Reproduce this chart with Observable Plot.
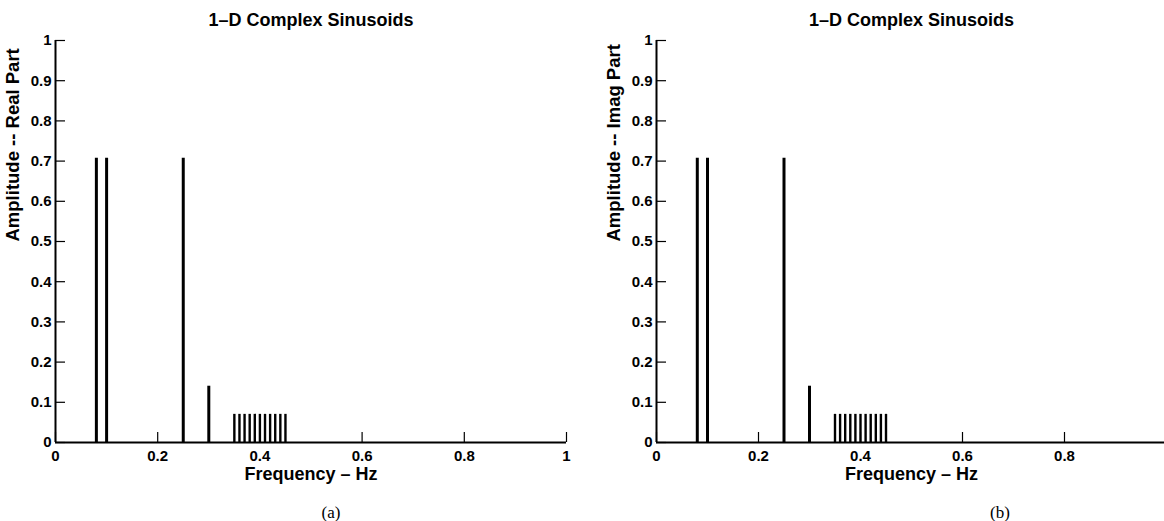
<!DOCTYPE html>
<html><head><meta charset="utf-8">
<script src="https://cdn.jsdelivr.net/npm/d3@7"></script>
<script src="https://cdn.jsdelivr.net/npm/@observablehq/plot@0.6"></script>
<style>
html,body{margin:0;padding:0;background:#fff;overflow:hidden;}
#wrap{position:relative;width:1164px;height:521px;overflow:hidden;background:#fff;}
.panel{position:absolute;top:0;}
.cap{position:absolute;top:503px;line-height:20px;font-family:"Liberation Serif","Times New Roman",serif;font-size:17px;color:#000;transform:translateX(-50%);white-space:nowrap;}
</style></head><body><div id="wrap"></div>
<script>
// Data
const freqs = [0.08, 0.10, 0.25, 0.30, 0.35, 0.36, 0.37, 0.38, 0.39, 0.40, 0.41, 0.42, 0.43, 0.44, 0.45];
const realAmps = [0.707, 0.707, 0.707, 0.14, 0.07, 0.07, 0.07, 0.07, 0.07, 0.07, 0.07, 0.07, 0.07, 0.07, 0.07];
const imagAmps = [0.707, 0.707, 0.707, 0.14, 0.07, 0.07, 0.07, 0.07, 0.07, 0.07, 0.07, 0.07, 0.07, 0.07, 0.07];
const xTicksA = [0, 0.2, 0.4, 0.6, 0.8, 1];
const xTicksB = [0, 0.2, 0.4, 0.6, 0.8];
const yTicks = [0, 0.1, 0.2, 0.3, 0.4, 0.5, 0.6, 0.7, 0.8, 0.9, 1];
const titleText = "1\u2013D Complex Sinusoids";
const xLabel = "Frequency \u2013 Hz";
const yLabelA = "Amplitude -- Real Part";
const yLabelB = "Amplitude -- Imag Part";

const wrap = document.getElementById("wrap");
const fmt = d3.format("~g");

function panel({left, width, marginLeft, marginRight, amps, xTicks, yLabel, caption, capX}) {
  const height = 475, marginTop = 40, marginBottom = 33;
  const plotW = width - marginLeft - marginRight;
  const plotH = height - marginTop - marginBottom;
  const data = freqs.map((f, i) => ({f, a: amps[i]}));
  const chart = Plot.plot({
    width, height, marginLeft, marginRight, marginTop, marginBottom,
    style: {fontFamily: "'Liberation Sans', Arial, sans-serif", fontSize: "15px", fontWeight: "bold", color: "#000", background: "#fff", overflow: "visible"},
    x: {domain: [0, 1], axis: null},
    y: {domain: [0, 1], axis: null},
    marks: [
      Plot.ruleX(xTicks, {x: d => d, insetTop: plotH - 10, stroke: "#000", strokeWidth: 1.2}),
      Plot.ruleY(yTicks, {y: d => d, insetRight: plotW - 10, stroke: "#000", strokeWidth: 1.2}),
      Plot.ruleY([0], {stroke: "#000", strokeWidth: 2}),
      Plot.ruleX([0], {stroke: "#000", strokeWidth: 2}),
      Plot.axisX({ticks: xTicks, tickSize: 0, tickPadding: 8, tickFormat: fmt, label: null, fontSize: 15, fontWeight: "bold"}),
      Plot.axisY({ticks: yTicks, tickSize: 0, tickPadding: 4, tickFormat: fmt, label: null, fontSize: 15, fontWeight: "bold"}),
      Plot.ruleX(data, {x: "f", y1: 0, y2: "a", stroke: "#000", strokeWidth: d => d.a > 0.1 ? 3 : 2.4}),
      Plot.text([titleText], {frameAnchor: "top", dy: -20, lineAnchor: "middle", fontSize: 18, fontWeight: "bold", fill: "#000"}),
      Plot.text([xLabel], {frameAnchor: "bottom", dy: 32, lineAnchor: "middle", fontSize: 18, fontWeight: "bold", fill: "#000"}),
      Plot.text([yLabel], {frameAnchor: "left", dx: -42, rotate: -90, lineAnchor: "middle", fontSize: 18.5, fontWeight: "bold", fill: "#000"})
    ]
  });
  chart.classList.add("panel");
  chart.style.left = left + "px";
  wrap.appendChild(chart);
  const cap = document.createElement("div");
  cap.className = "cap";
  cap.textContent = caption;
  cap.style.left = capX + "px";
  wrap.appendChild(cap);
}

panel({left: 0, width: 590, marginLeft: 55, marginRight: 24, amps: realAmps, xTicks: xTicksA, yLabel: yLabelA, caption: "(a)", capX: 331});
panel({left: 600, width: 576, marginLeft: 56, marginRight: 10, amps: imagAmps, xTicks: xTicksB, yLabel: yLabelB, caption: "(b)", capX: 1000});
</script>
</body></html>
